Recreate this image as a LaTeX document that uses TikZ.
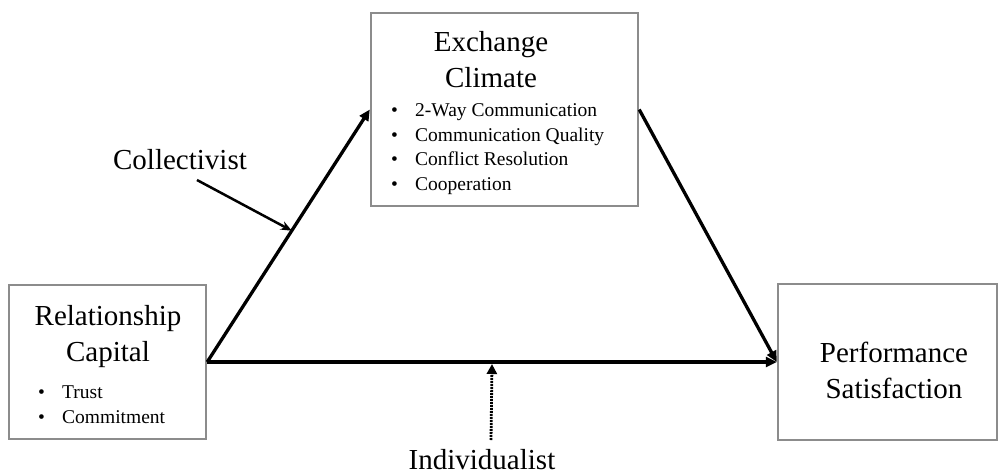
\documentclass[tikz,border=0pt]{standalone}
\usepackage{fontspec}
\setmainfont{Liberation Serif}
\usetikzlibrary{arrows.meta,calc}
\definecolor{boxgray}{RGB}{140,140,140}
\begin{document}
\begin{tikzpicture}[x=1pt,y=-1pt,
  box/.style={draw=boxgray,line width=2.4pt,fill=white,inner sep=0pt},
  title/.style={font=\fontsize{29}{36}\selectfont,align=center,inner sep=0pt},
  bullets/.style={font=\fontsize{19.5}{24.5}\selectfont,align=left,inner sep=0pt},
  label/.style={font=\fontsize{29}{36}\selectfont,inner sep=0pt},
  link/.style={line width=3.3pt,-{Triangle[length=11pt,width=10pt]}},
  modarrow/.style={line width=2.5pt,-{Stealth[length=11pt,width=9pt]}},
  dotarrow/.style={line width=2.8pt,dash pattern=on 1.8pt off 1.2pt,-{Triangle[length=10pt,width=10pt]}}]
\useasboundingbox (0,0) rectangle (999,475);

% boxes
\node[box,minimum width=197pt,minimum height=154pt] (rc) at (107.5,362) {};
\node[box,minimum width=267pt,minimum height=193pt] (ec) at (504.5,109.5) {};
\node[box,minimum width=219pt,minimum height=156pt] (ps) at (887.5,362) {};

% box contents (base anchor sits on the last line)
\node[title,anchor=base] (ectitle) at (491,87) {Exchange\\Climate};
\node[bullets,anchor=base west] (eclist) at (391,190)
  {\makebox[24pt][l]{•}2-Way Communication\\
   \makebox[24pt][l]{•}Communication Quality\\
   \makebox[24pt][l]{•}Conflict Resolution\\
   \makebox[24pt][l]{•}Cooperation};
\node[title,anchor=base] (rctitle) at (108,361) {Relationship\\Capital};
\node[bullets,anchor=base west] (rclist) at (38,423)
  {\makebox[24pt][l]{•}Trust\\
   \makebox[24pt][l]{•}Commitment};
\node[title,anchor=base] (pstitle) at (894,398) {Performance\\Satisfaction};

% moderator labels
\node[label,anchor=base] (coll) at (180,169) {Collectivist};
\node[label,anchor=base] (indiv) at (482,469) {Individualist};

% paths between constructs
\draw[link] (rc.east) -- (ec.west);
\draw[link] (ec.east) -- (ps.west);
\draw[link] (rc.east) -- (ps.west);

% moderating effects
\coordinate (cstart) at (197,180);
\draw[modarrow] (cstart) -- ($(rc.east)!0.52!(ec.west)$);
\coordinate (istart) at (491,440);
\draw[dotarrow] (istart) -- ($(rc.east)!0.5!(ps.west)+(0,2)$);
\end{tikzpicture}
\end{document}
